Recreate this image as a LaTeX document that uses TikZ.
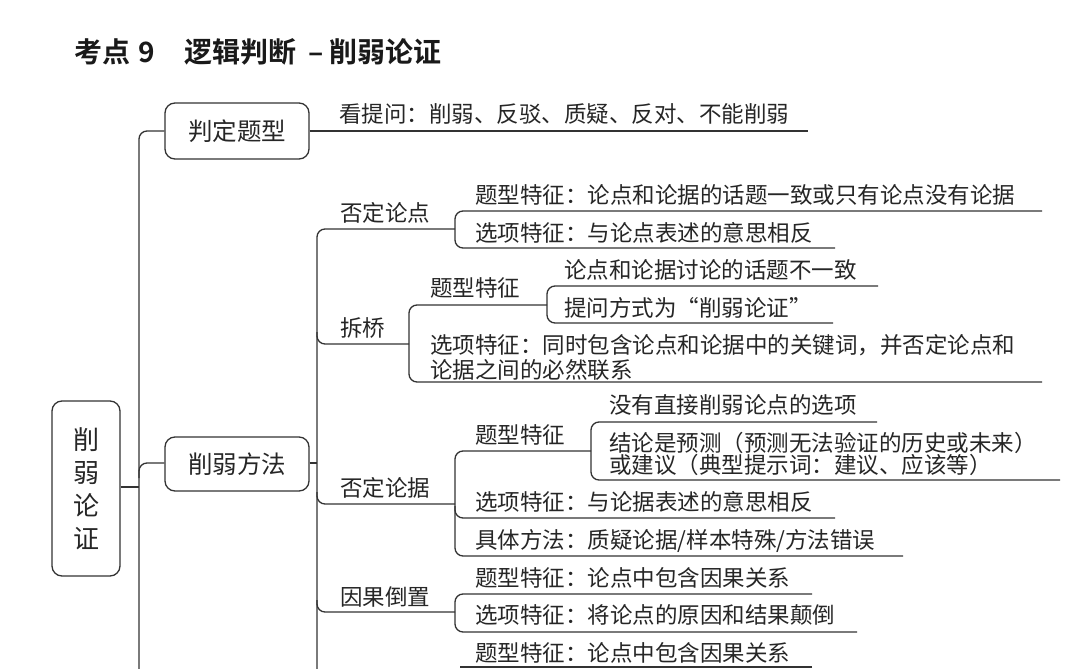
\documentclass[tikz,border=0pt]{standalone}
\usepackage{fontspec}
\setmainfont{Noto Sans CJK SC}
\newfontfamily\titlefont{Noto Sans CJK SC Bold}
\begin{document}
\begin{tikzpicture}[x=1pt,y=-1pt,
  ln/.style={line width=1.3pt,draw=black!80,rounded corners=8pt},
  bx/.style={draw=black!80,line width=1.3pt,rounded corners=10pt,font=\fontsize{24.5}{28}\selectfont,inner sep=0pt,text=black!85},
  tx/.style={anchor=base west,inner sep=0pt,font=\fontsize{22.5}{26}\selectfont,text=black!85}]
\useasboundingbox (0,0) rectangle (1080,669);
\fill[white] (0,0) rectangle (1080,669);
% title
\node[anchor=base west,inner sep=0pt,font=\titlefont\fontsize{28}{32}\selectfont,text=black!90] (title) at (74,63) {考点\hspace{8pt}9\hspace{30pt}逻辑判断\hspace{12pt}–\hspace{6pt}削弱论证};
% root
\node[bx,minimum width=68pt,minimum height=175pt,font=\fontsize{26}{33}\selectfont,align=center] (root) at (86,488.5) {削\\弱\\论\\证};
\node[bx,minimum width=144pt,minimum height=56pt] (judge) at (237,131) {判定题型};
\node[bx,minimum width=144pt,minimum height=54pt] (weak) at (237,464) {削弱方法};
\draw[ln] (judge.west) -- (139,131) -- (139,680);
\draw[ln] (root.east |- 0,487) -- (139,487);
\draw[ln] (139,478) -- (139,463) -- (weak.west |- 0,463);
% judge branch
\node[tx] (q) at (339,123) {看提问：削弱、反驳、质疑、反对、不能削弱};
\draw[ln] (judge.east |- 0,131) -- (808,131);
% weak bracket
\draw[ln] (weak.east |- 0,463) -- (317,463);
\draw[ln] (455,229) -- (317,229) -- (317,680);
\node[tx] (fdld) at (340,221) {否定论点};
\draw[ln] (317,332) -- (317,344) -- (409,344);
\node[tx] (cq) at (340,336) {拆桥};
\draw[ln] (317,492) -- (317,504) -- (455,504);
\node[tx] (fdlj) at (340,496.5) {否定论据};
\draw[ln] (317,600) -- (317,612) -- (455,612);
\node[tx] (ygdz) at (340,605) {因果倒置};
% 否定论点 children
\draw[ln] (1042,211) -- (455,211) -- (455,248) -- (835,248);
\node[tx] (a1) at (475,203.5) {题型特征：论点和论据的话题一致或只有论点没有论据};
\node[tx] (a2) at (475,241.5) {选项特征：与论点表述的意思相反};
% 拆桥 children
\draw[ln] (547,305) -- (409,305) -- (409,382) -- (1042,382);
\node[tx] (b1) at (430,296.5) {题型特征};
\node[tx] (b2) at (430,353.5) {选项特征：同时包含论点和论据中的关键词，并否定论点和};
\node[tx] (b2b) at (430,378) {论据之间的必然联系};
\draw[ln] (878,286) -- (547,286) -- (547,323) -- (833,323);
\node[tx] (b11) at (564,278.5) {论点和论据讨论的话题不一致};
\node[tx] (b12) at (564,316.5) {提问方式为“削弱论证”};
% 否定论据 children
\draw[ln] (591,451) -- (455,451) -- (455,556) -- (903,556);
\draw[ln] (455,506) -- (455,518) -- (835,518);
\node[tx] (c1) at (475,443.5) {题型特征};
\node[tx] (c2) at (475,510.5) {选项特征：与论据表述的意思相反};
\node[tx] (c3) at (475,548.5) {具体方法：质疑论据/样本特殊/方法错误};
\draw[ln] (877,422) -- (591,422) -- (591,480) -- (1060,480);
\node[tx] (c11) at (609,413.5) {没有直接削弱论点的选项};
\node[tx] (c12) at (609,451.5) {结论是预测（预测无法验证的历史或未来）};
\node[tx] (c12b) at (609,473.5) {或建议（典型提示词：建议、应该等）};
% 因果倒置 children
\draw[ln] (812,594) -- (455,594) -- (455,632) -- (857,632);
\node[tx] (d1) at (475,586.5) {题型特征：论点中包含因果关系};
\node[tx] (d2) at (475,623.5) {选项特征：将论点的原因和结果颠倒};
% next branch (cut off)
\draw[ln] (812,667) -- (460,667);
\node[tx] (e1) at (475,661.5) {题型特征：论点中包含因果关系};
\end{tikzpicture}
\end{document}
